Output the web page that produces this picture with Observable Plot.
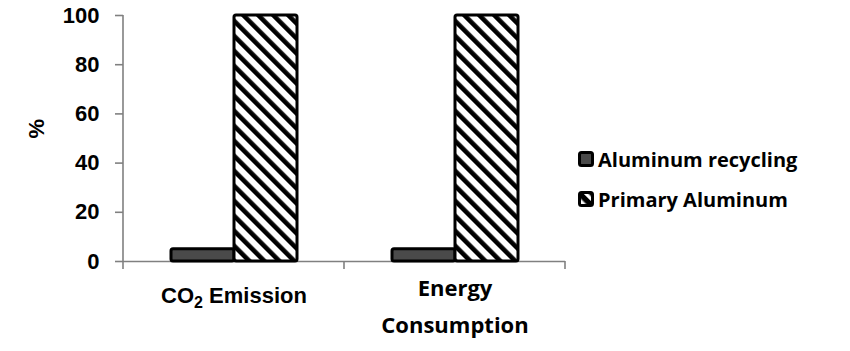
<!DOCTYPE html>
<html>
<head>
<meta charset="utf-8">
<script src="https://cdn.jsdelivr.net/npm/d3@7"></script>
<script src="https://cdn.jsdelivr.net/npm/@observablehq/plot@0.6"></script>
<style>
  html, body { margin: 0; padding: 0; background: #fff; }
  #wrap { position: relative; width: 850px; height: 351px; }
  #legend { position: absolute; left: 578px; top: 149px; font-family: "Open Sans", sans-serif; font-weight: 700; font-size: 20px; color: #000; }
  .item { display: flex; align-items: center; height: 20px; margin-bottom: 20px; white-space: nowrap; }
  .item svg { margin-right: 4px; flex: none; }
</style>
</head>
<body>
<div id="wrap"></div>
<script>
const categories = ["CO2 Emission", "Energy Consumption"];
const categoryLabels = ["CO₂ Emission", "Energy\nConsumption"];
const series = ["Aluminum recycling", "Primary Aluminum"];
const recyclingValues = [5, 5];
const primaryValues = [100, 100];
const yTicks = [0, 20, 40, 60, 80, 100];
const yLabel = "%";

const data = [];
categories.forEach((c, i) => {
  data.push({category: c, series: series[0], value: recyclingValues[i]});
  data.push({category: c, series: series[1], value: primaryValues[i]});
});
const labelData = categories.map((c, i) => ({category: c, label: categoryLabels[i]}));

const fills = {"Aluminum recycling": "#4a4a4a", "Primary Aluminum": "url(#hatch)"};
const arialBold = {fontFamily: "Liberation Sans, Arial, sans-serif", fontWeight: "bold", fontSize: 22, fill: "#000"};

const plot = Plot.plot({
  width: 850,
  height: 351,
  marginLeft: 123,
  marginRight: 285,
  marginTop: 15,
  marginBottom: 90,
  style: {background: "#fff", overflow: "visible"},
  fx: {domain: categories, padding: 0, axis: null, label: null},
  x: {domain: series, paddingInner: 0, paddingOuter: 0.74, axis: null, label: null},
  y: {domain: [0, 100], axis: null},
  marks: [
    Plot.ruleY([0], {stroke: "#808080", strokeWidth: 1.6}),
    Plot.barY(data, {
      fx: "category", x: "series", y: "value",
      fill: d => fills[d.series],
      stroke: "#000", strokeWidth: 3, inset: 0, rx: 2
    }),
    Plot.axisY({
      ticks: yTicks, tickSize: 8, tickPadding: 16, stroke: "#808080", strokeWidth: 1.6,
      ...arialBold, label: null
    }),
    Plot.text([{category: categories[0]}], {
      fx: "category", text: () => yLabel, frameAnchor: "left", dx: -87, rotate: -90,
      ...arialBold
    }),
    Plot.text(labelData.filter(d => d.category === categories[0]), {
      fx: "category", text: "label", frameAnchor: "bottom", dy: 41,
      ...arialBold
    }),
    Plot.text(labelData.filter(d => d.category === categories[1]), {
      fx: "category", text: "label", frameAnchor: "bottom", dy: 41, lineHeight: 1.7,
      lineAnchor: "middle",
      fontFamily: "Open Sans, sans-serif", fontWeight: "bold", fontSize: 22, fill: "#000"
    })
  ]
});

const svg = d3.select(plot);
const defs = svg.insert("defs", ":first-child");
const pat = defs.append("pattern").attr("id", "hatch")
  .attr("patternUnits", "userSpaceOnUse").attr("width", 10.6).attr("height", 10.6)
  .attr("patternTransform", "rotate(-45)");
pat.append("rect").attr("width", 10.6).attr("height", 10.6).attr("fill", "#fff");
pat.append("rect").attr("width", 4.6).attr("height", 10.6).attr("fill", "#000");

// axis frame lines (y-axis line and category boundary ticks) from the scales
const fx = plot.scale("fx");
const y = plot.scale("y");
const y0 = y.apply(0), y100 = y.apply(100);
const g = svg.append("g").attr("stroke", "#808080").attr("stroke-width", 1.6);
const x0 = fx.apply(categories[0]);
g.append("line").attr("x1", x0).attr("x2", x0).attr("y1", y100).attr("y2", y0 + 8);
categories.forEach(c => {
  const xr = fx.apply(c) + fx.bandwidth;
  g.append("line").attr("x1", xr).attr("x2", xr).attr("y1", y0).attr("y2", y0 + 8);
});

// real subscript for CO2
svg.selectAll("text").each(function() {
  if (this.textContent === categoryLabels[0]) {
    const t = d3.select(this);
    t.text(null);
    t.append("tspan").text("CO");
    t.append("tspan").attr("dy", 5).attr("font-size", 16).text("2");
    t.append("tspan").attr("dy", -5).text(" Emission");
  }
});

const wrap = document.getElementById("wrap");
wrap.appendChild(plot);

// legend
const legend = document.createElement("div");
legend.id = "legend";
series.forEach((s, i) => {
  const item = document.createElement("div");
  item.className = "item";
  const sw = d3.create("svg").attr("width", 16).attr("height", 16);
  if (i === 1) {
    const p = sw.append("defs").append("pattern").attr("id", "hatchSmall")
      .attr("patternUnits", "userSpaceOnUse").attr("width", 9).attr("height", 9)
      .attr("patternTransform", "rotate(-45)");
    p.append("rect").attr("width", 9).attr("height", 9).attr("fill", "#000");
    p.append("rect").attr("x", 2).attr("width", 3.5).attr("height", 9).attr("fill", "#fff");
  }
  sw.append("rect").attr("x", 1.5).attr("y", 1.5).attr("width", 13).attr("height", 13).attr("rx", 2)
    .attr("fill", i === 0 ? "#4a4a4a" : "url(#hatchSmall)").attr("stroke", "#000").attr("stroke-width", 3);
  item.appendChild(sw.node());
  const t = document.createElement("span");
  t.textContent = s;
  item.appendChild(t);
  legend.appendChild(item);
});
wrap.appendChild(legend);
</script>
</body>
</html>
